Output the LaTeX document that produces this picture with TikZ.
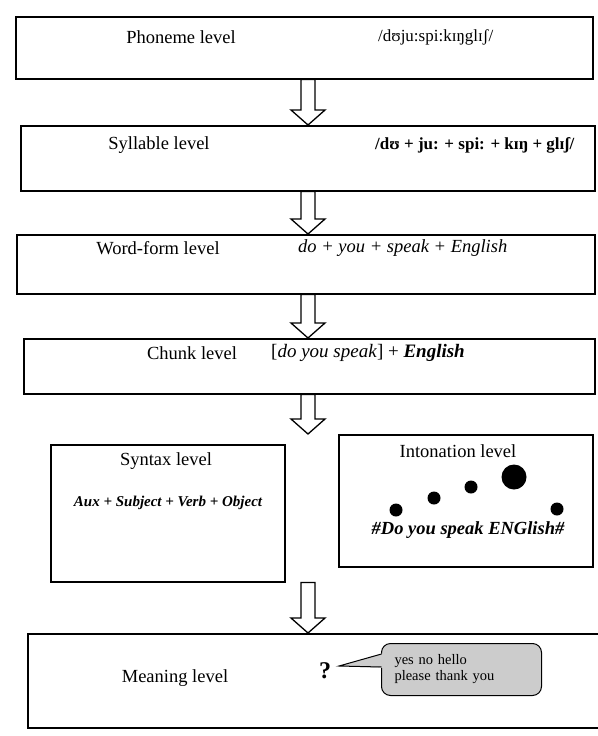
\documentclass[tikz,border=0pt]{standalone}
\usepackage{fontspec}
\setmainfont{Liberation Serif}
\usetikzlibrary{calc}
\tikzset{
  box/.style={draw, line width=1.5pt, inner sep=0pt, anchor=north west},
  lbl/.style={inner sep=0pt, font=\fontsize{18.5}{21}\selectfont},
  ipa/.style={inner sep=0pt, anchor=west, font=\fontsize{17}{20}\selectfont},
  barrow/.style={draw, line width=1.3pt, line join=miter},
  dot/.style={circle, fill=black, inner sep=0pt},
  bubble/.style={draw, line width=1pt, fill=gray!40, rounded corners=9pt, inner sep=0pt, anchor=north west},
}
\newcommand\blockarrow[2]{%
  \draw[barrow] let \p1=(#1), \p2=(#2) in
   (\x1-7pt,\y1) -- (\x1-7pt,\y2+15pt) -- (\x1-17pt,\y2+15pt) -- (\x1,\y2)
   -- (\x1+17pt,\y2+15pt) -- (\x1+7pt,\y2+15pt) -- (\x1+7pt,\y1) -- cycle;}
\begin{document}
\begin{tikzpicture}[x=1pt,y=-1pt]
\useasboundingbox[fill=white] (0,0) rectangle (597,736);
% boxes
\node[box, minimum width=577pt, minimum height=62pt] (b1) at (15,16) {};
\node[box, minimum width=574pt, minimum height=65pt] (b2) at (20,125) {};
\node[box, minimum width=578pt, minimum height=59pt] (b3) at (16,234) {};
\node[box, minimum width=571pt, minimum height=55pt] (b4) at (23,338) {};
\node[box, minimum width=234pt, minimum height=137pt] (syn) at (50,444) {};
\node[box, minimum width=254pt, minimum height=132pt] (int) at (338,434) {};
\node[box, minimum width=580pt, minimum height=94pt] (mean) at (27,633) {};
% texts
\node[lbl] (t1) at (181,37) {Phoneme level};
\node[ipa] (p1) at (378,37) {/dʊju:spi:kɪŋglɪʃ/};
\node[lbl] (t2) at (159,145) {Syllable level};
\node[ipa] (p2) at (375,145) {\bfseries /dʊ + ju: + spi: + kɪŋ + glɪʃ/};
\node[lbl] (t3) at (158,248) {Word-form level};
\node[lbl, anchor=west] (p3) at (298,248) {\itshape do + you + speak + English};
\node[lbl] (t4) at (192,353) {Chunk level};
\node[lbl, anchor=west, font=\fontsize{19}{21}\selectfont] (p4) at (271,353) {[\textit{do you speak}] + \textbf{\textit{English}}};
\node[lbl] (t5) at (166,461) {Syntax level};
\node[lbl, font=\fontsize{15}{17}\selectfont\bfseries\itshape] (p5) at (168,503) {Aux + Subject + Verb + Object};
\node[lbl] (t6) at (458,451) {Intonation level};
\node[lbl, font=\fontsize{18.5}{21}\selectfont\bfseries\itshape] (p6) at (468,530) {\#Do you speak ENGlish\#};
\node[dot, minimum size=13pt] (d1) at (396,510) {};
\node[dot, minimum size=13pt] (d2) at (434,498) {};
\node[dot, minimum size=13pt] (d3) at (471,487) {};
\node[dot, minimum size=25pt] (d4) at (514,477) {};
\node[dot, minimum size=13pt] (d5) at (557,509) {};
\node[lbl] (t7) at (175,678) {Meaning level};
\node[lbl, font=\fontsize{24}{26}\selectfont\bfseries] (q) at (325,671) {?};
\node[bubble, minimum width=160pt, minimum height=52pt, text width=134pt, align=left,
      font=\fontsize{14.5}{16}\selectfont] (bub) at (381,643) {yes no hello\\please thank you};
\coordinate (tip) at (339,666);
\fill[gray!40] (384,653) -- (tip) -- (384,668) -- cycle;
\draw[line width=1pt] (381.5,654) -- (tip) -- (381.5,667);
% block arrows
\coordinate (ax) at (308,0);
\blockarrow{b1.south -| ax}{b2.north -| ax}
\blockarrow{b2.south -| ax}{b3.north -| ax}
\blockarrow{b3.south -| ax}{b4.north -| ax}
\blockarrow{b4.south -| ax}{int.north -| ax}
\blockarrow{syn.south -| ax}{mean.north -| ax}
\end{tikzpicture}
\end{document}
